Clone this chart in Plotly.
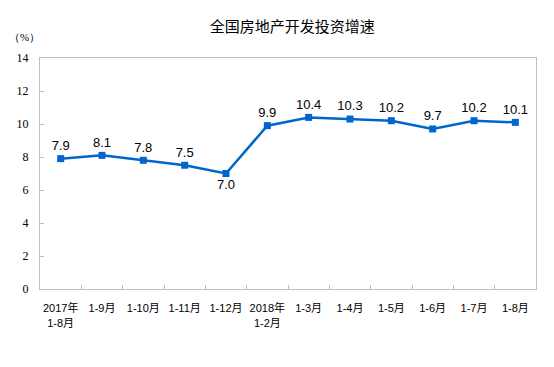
import plotly.graph_objects as go

categories = ["2017年<br>1-8月", "1-9月", "1-10月", "1-11月", "1-12月", "2018年<br>1-2月",
              "1-3月", "1-4月", "1-5月", "1-6月", "1-7月", "1-8月"]
values = [7.9, 8.1, 7.8, 7.5, 7.0, 9.9, 10.4, 10.3, 10.2, 9.7, 10.2, 10.1]
labels = ["7.9", "8.1", "7.8", "7.5", "7.0", "9.9", "10.4", "10.3", "10.2", "9.7", "10.2", "10.1"]
y_ticks = [0, 2, 4, 6, 8, 10, 12, 14]

positions = ["bottom center" if v == min(values) else "top center" for v in values]

fig = go.Figure()
fig.add_trace(go.Scatter(
    x=categories, y=values, mode="lines+markers+text",
    text=labels, textposition=positions,
    textfont=dict(family="Liberation Sans", size=13, color="#000000"),
    line=dict(color="#0066CC", width=2.5),
    marker=dict(symbol="square", size=7, color="#0066CC"),
    cliponaxis=False,
))

fig.update_layout(
    width=554, height=367,
    margin=dict(l=32, r=26, t=50, b=86, autoexpand=False),
    paper_bgcolor="white", plot_bgcolor="white",
    showlegend=False,
    title=dict(text="全国房地产开发投资增速", x=0.513, xanchor="center", y=0.948, yanchor="middle",
               font=dict(family="Noto Sans CJK SC", size=15, color="#000000")),
    annotations=[dict(text="（%）", xref="paper", yref="paper", x=-0.032, y=1.091,
                      xanchor="center", yanchor="middle", showarrow=False,
                      font=dict(family="Liberation Serif", size=11, color="#000000"))],
)
fig.update_xaxes(
    type="category", range=[-0.5, len(categories) - 0.5],
    showline=True, mirror=True, linecolor="#BFBFBF", linewidth=1,
    ticks="inside", ticklen=4, tickcolor="#BFBFBF", tickson="boundaries",
    showgrid=False, tickangle=0, automargin=False, ticklabelstandoff=9,
    tickfont=dict(family="Liberation Sans, Noto Sans CJK SC", size=11, color="#000000"),
)
fig.update_yaxes(
    range=[0, 14], tickvals=y_ticks, showline=True, mirror=True, linecolor="#BFBFBF", linewidth=1,
    ticks="inside", ticklen=4, tickcolor="#BFBFBF", showgrid=False, zeroline=False,
    automargin=False, ticklabelstandoff=8,
    tickfont=dict(family="Liberation Serif", size=12, color="#000000"),
)

fig.write_html("out.html")
